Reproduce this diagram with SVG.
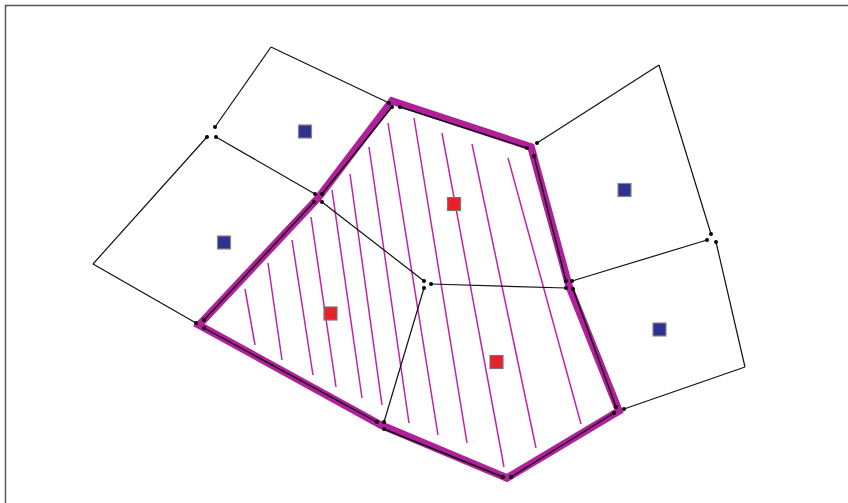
<svg xmlns="http://www.w3.org/2000/svg" width="848" height="503" viewBox="0 0 848 503">
<style>
.frame{fill:none;stroke:#555;stroke-width:1.5}
.edge{fill:none;stroke:#111;stroke-width:1.2}
.thick{fill:none;stroke:#b0209a;stroke-width:7.5;stroke-linejoin:miter;stroke-miterlimit:10}
.inner{fill:none;stroke:#111;stroke-width:1.4}
.hatch{fill:none;stroke:#c024aa;stroke-width:1.5}
.dot{fill:#000}
.site-b{fill:#2e3192;stroke:#888;stroke-width:1.2}
.site-r{fill:#e8202a;stroke:#777;stroke-width:1.2}
</style>
<rect x="0" y="0" width="848" height="503" fill="#fff"/>
<path class="frame" d="M5.5,503 V5.5 H848"/>

<g id="hatching">
<line class="hatch" x1="245" y1="289" x2="255" y2="345"/>
<line class="hatch" x1="268" y1="263" x2="282" y2="360"/>
<line class="hatch" x1="292" y1="240" x2="313" y2="375"/>
<line class="hatch" x1="311" y1="217" x2="336" y2="387"/>
<line class="hatch" x1="332" y1="190" x2="362" y2="398"/>
<line class="hatch" x1="350" y1="174" x2="382" y2="405"/>
<line class="hatch" x1="369" y1="147" x2="409" y2="423"/>
<line class="hatch" x1="388" y1="123" x2="438" y2="435"/>
<line class="hatch" x1="414" y1="118" x2="467" y2="443"/>
<line class="hatch" x1="442" y1="133" x2="504" y2="467"/>
<line class="hatch" x1="472" y1="144" x2="536" y2="448"/>
<line class="hatch" x1="508" y1="158" x2="581" y2="424"/>
</g>

<g id="boundary">
<polygon class="thick" points="392,101 531,147 569,286 619,411 507,478 381,425 199,325 318,198"/>
</g>

<g id="connectors">
<!-- outer cell edges -->
<line class="edge" x1="271" y1="47" x2="215" y2="127"/>
<line class="edge" x1="271" y1="47" x2="389" y2="103"/>
<line class="edge" x1="207" y1="137" x2="93" y2="264"/>
<line class="edge" x1="93" y1="264" x2="196" y2="323"/>
<line class="edge" x1="216" y1="137" x2="315" y2="194"/>
<line class="edge" x1="322" y1="202" x2="424" y2="281"/>
<line class="edge" x1="431" y1="284" x2="566" y2="288"/>
<line class="edge" x1="424" y1="288" x2="384" y2="422"/>
<line class="edge" x1="537" y1="143" x2="659" y2="65"/>
<line class="edge" x1="659" y1="65" x2="711" y2="234"/>
<line class="edge" x1="707" y1="240" x2="572" y2="281"/>
<line class="edge" x1="716" y1="242" x2="745" y2="367"/>
<line class="edge" x1="745" y1="367" x2="624" y2="409"/>
<!-- boundary edges -->
<line class="inner" x1="400" y1="107" x2="527" y2="148"/>
<line class="inner" x1="534" y1="156" x2="566" y2="281"/>
<line class="inner" x1="573" y1="289" x2="616" y2="407"/>
<line class="inner" x1="614" y1="413" x2="511" y2="477"/>
<line class="inner" x1="503" y1="477" x2="384" y2="429"/>
<line class="inner" x1="377" y1="422" x2="204" y2="328"/>
<line class="inner" x1="204" y1="320" x2="314" y2="202"/>
<line class="inner" x1="322" y1="194" x2="392" y2="107"/>
</g>

<g id="vertices">
<circle class="dot" cx="215" cy="127" r="2"/>
<circle class="dot" cx="207" cy="137" r="2"/>
<circle class="dot" cx="216" cy="137" r="2"/>
<circle class="dot" cx="389" cy="103" r="2"/>
<circle class="dot" cx="392" cy="107" r="2"/>
<circle class="dot" cx="400" cy="107" r="2"/>
<circle class="dot" cx="315" cy="194" r="2"/>
<circle class="dot" cx="322" cy="194" r="2"/>
<circle class="dot" cx="314" cy="202" r="2"/>
<circle class="dot" cx="322" cy="202" r="2"/>
<circle class="dot" cx="527" cy="148" r="2"/>
<circle class="dot" cx="537" cy="143" r="2"/>
<circle class="dot" cx="534" cy="156" r="2"/>
<circle class="dot" cx="424" cy="281" r="2"/>
<circle class="dot" cx="431" cy="284" r="2"/>
<circle class="dot" cx="424" cy="288" r="2"/>
<circle class="dot" cx="566" cy="281" r="2"/>
<circle class="dot" cx="572" cy="281" r="2"/>
<circle class="dot" cx="566" cy="288" r="2"/>
<circle class="dot" cx="573" cy="289" r="2"/>
<circle class="dot" cx="711" cy="234" r="2"/>
<circle class="dot" cx="707" cy="240" r="2"/>
<circle class="dot" cx="716" cy="242" r="2"/>
<circle class="dot" cx="196" cy="323" r="2"/>
<circle class="dot" cx="204" cy="320" r="2"/>
<circle class="dot" cx="204" cy="328" r="2"/>
<circle class="dot" cx="377" cy="422" r="2"/>
<circle class="dot" cx="384" cy="422" r="2"/>
<circle class="dot" cx="384" cy="429" r="2"/>
<circle class="dot" cx="503" cy="477" r="2"/>
<circle class="dot" cx="511" cy="477" r="2"/>
<circle class="dot" cx="616" cy="407" r="2"/>
<circle class="dot" cx="624" cy="409" r="2"/>
<circle class="dot" cx="614" cy="413" r="2"/>
</g>

<g id="site-a"><rect class="site-b" x="298.5" y="125" width="13" height="13"/></g>
<g id="site-b"><rect class="site-b" x="217.5" y="236" width="13" height="13"/></g>
<g id="site-c"><rect class="site-b" x="618" y="183.5" width="13" height="13"/></g>
<g id="site-d"><rect class="site-b" x="653" y="323" width="13" height="13"/></g>
<g id="site-e"><rect class="site-r" x="447.5" y="197.5" width="13" height="13"/></g>
<g id="site-f"><rect class="site-r" x="324" y="307" width="13" height="13"/></g>
<g id="site-g"><rect class="site-r" x="490" y="355.5" width="13" height="13"/></g>
</svg>
